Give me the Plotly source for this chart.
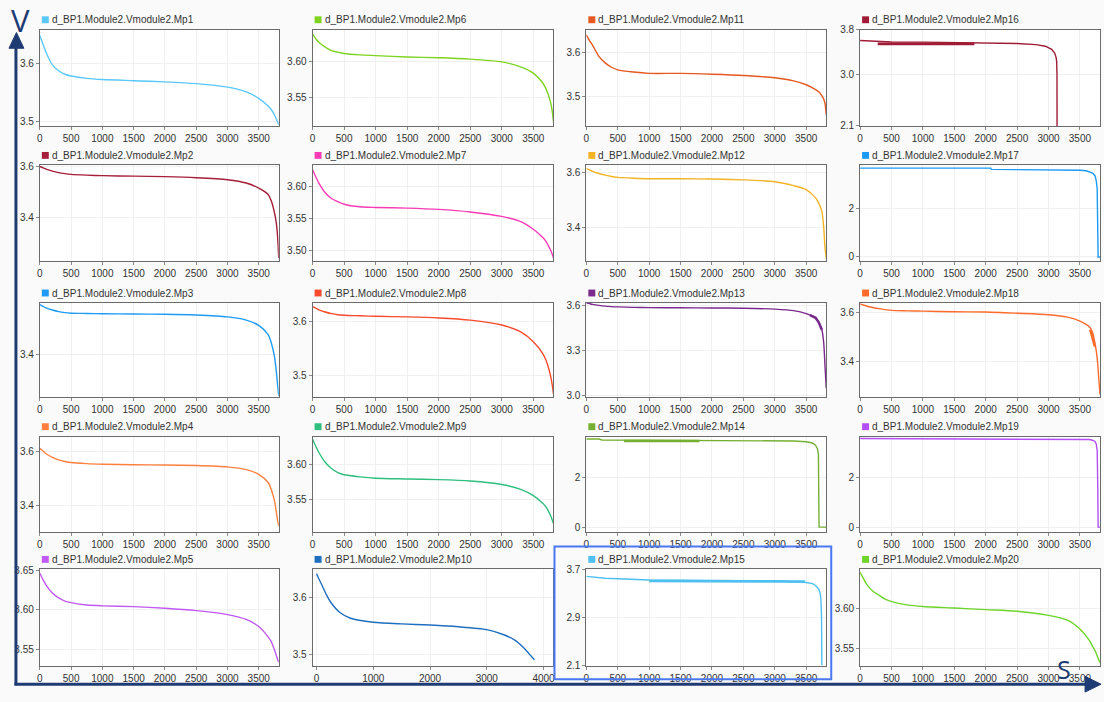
import plotly.graph_objects as go

# ---- cell voltages (V) over discharge time (s), module 2 of pack BP1 ----
T_STD = [0, 50, 100, 200, 300, 400, 500, 750, 1000, 1500, 2000, 2500,
         3000, 3300, 3500, 3650, 3700, 3750, 3780, 3800, 3820]

MP1_V = [3.647, 3.632, 3.618, 3.597, 3.587, 3.581, 3.578, 3.574, 3.572, 3.570, 3.568,
         3.565, 3.559, 3.551, 3.540, 3.527, 3.521, 3.512, 3.505, 3.500, 3.495]
MP2_V = [3.600, 3.595, 3.590, 3.582, 3.576, 3.572, 3.569, 3.566, 3.564, 3.562, 3.560,
         3.556, 3.548, 3.535, 3.515, 3.490, 3.465, 3.420, 3.380, 3.330, 3.240]
MP3_V = [3.588, 3.582, 3.576, 3.568, 3.562, 3.558, 3.556, 3.555, 3.554, 3.553, 3.552,
         3.549, 3.542, 3.530, 3.510, 3.475, 3.445, 3.395, 3.340, 3.290, 3.245]
MP4_V = [3.610, 3.600, 3.590, 3.577, 3.568, 3.562, 3.558, 3.554, 3.552, 3.550, 3.549,
         3.547, 3.542, 3.532, 3.515, 3.485, 3.460, 3.420, 3.380, 3.350, 3.325]
MP5_V = [3.646, 3.638, 3.631, 3.621, 3.615, 3.611, 3.609, 3.606, 3.605, 3.604, 3.602,
         3.599, 3.594, 3.588, 3.579, 3.566, 3.560, 3.550, 3.543, 3.538, 3.534]
MP6_V = [3.640, 3.633, 3.628, 3.621, 3.616, 3.614, 3.612, 3.610, 3.609, 3.607, 3.606,
         3.604, 3.600, 3.593, 3.584, 3.570, 3.562, 3.550, 3.540, 3.530, 3.515]
MP7_V = [3.626, 3.615, 3.605, 3.590, 3.581, 3.576, 3.572, 3.568, 3.567, 3.566, 3.564,
         3.560, 3.553, 3.545, 3.533, 3.520, 3.514, 3.505, 3.499, 3.494, 3.488]
MP8_V = [3.627, 3.624, 3.621, 3.617, 3.614, 3.612, 3.611, 3.610, 3.609, 3.608, 3.606,
         3.602, 3.593, 3.580, 3.562, 3.540, 3.528, 3.510, 3.495, 3.482, 3.465]
MP9_V = [3.636, 3.626, 3.617, 3.603, 3.594, 3.588, 3.585, 3.582, 3.580, 3.579, 3.578,
         3.576, 3.571, 3.564, 3.555, 3.544, 3.539, 3.531, 3.525, 3.520, 3.515]
MP10_T = [0, 50, 100, 175, 250, 400, 600, 1000, 1500, 2000, 2500, 3000, 3300, 3500,
          3650, 3750, 3840]
MP10_V = [3.641, 3.630, 3.620, 3.604, 3.591, 3.574, 3.563, 3.556, 3.553, 3.551, 3.548,
          3.543, 3.534, 3.524, 3.511, 3.500, 3.490]
MP11_V = [3.641, 3.628, 3.617, 3.592, 3.577, 3.567, 3.561, 3.556, 3.553, 3.553, 3.551,
          3.548, 3.543, 3.536, 3.527, 3.516, 3.511, 3.502, 3.494, 3.485, 3.458]
MP12_V = [3.615, 3.610, 3.605, 3.597, 3.591, 3.586, 3.583, 3.580, 3.578, 3.578, 3.577,
          3.574, 3.567, 3.553, 3.539, 3.509, 3.490, 3.460, 3.400, 3.330, 3.290]
MP13_V = [3.620, 3.615, 3.610, 3.603, 3.598, 3.595, 3.593, 3.590, 3.588, 3.587, 3.586,
          3.584, 3.578, 3.568, 3.548, 3.520, 3.490, 3.440, 3.350, 3.200, 3.050]
MP14_T = [0, 200, 250, 1000, 2000, 3000, 3300, 3500, 3600, 3650, 3680, 3695, 3705, 3820]
MP14_V = [3.55, 3.55, 3.51, 3.50, 3.50, 3.49, 3.47, 3.44, 3.39, 3.30, 3.15, 2.95, 0.0, 0.0]
MP15_T = [0, 300, 1000, 2000, 3000, 3500, 3600, 3650, 3700, 3720, 3735, 3745, 3750]
MP15_V = [3.58, 3.55, 3.52, 3.515, 3.505, 3.48, 3.46, 3.43, 3.37, 3.31, 3.20, 2.90, 2.10]
MP16_T = [0, 250, 300, 500, 1000, 1500, 2000, 2500, 2800, 2950, 3050, 3100, 3120, 3130,
          3135, 3136]
MP16_V = [3.608, 3.595, 3.588, 3.582, 3.578, 3.574, 3.568, 3.555, 3.535, 3.507, 3.450,
          3.380, 3.310, 3.240, 3.000, 2.100]
MP17_T = [0, 2080, 2090, 3450, 3500, 3600, 3650, 3700, 3740, 3760, 3775, 3785, 3790, 3820]
MP17_V = [3.66, 3.66, 3.61, 3.60, 3.57, 3.55, 3.52, 3.46, 3.35, 3.15, 2.80, 1.50, 0.0, 0.0]
MP18_V = [3.637, 3.632, 3.628, 3.622, 3.617, 3.613, 3.610, 3.608, 3.607, 3.604, 3.603,
          3.598, 3.592, 3.582, 3.566, 3.542, 3.520, 3.460, 3.400, 3.330, 3.264]
MP19_T = [0, 3000, 3650, 3700, 3740, 3760, 3775, 3785, 3790, 3820]
MP19_V = [3.57, 3.55, 3.53, 3.50, 3.45, 3.35, 3.10, 1.50, 0.0, 0.0]
MP20_V = [3.644, 3.637, 3.630, 3.621, 3.616, 3.611, 3.608, 3.604, 3.602, 3.600, 3.598,
          3.596, 3.591, 3.585, 3.574, 3.560, 3.553, 3.546, 3.540, 3.536, 3.533]

# dense / jittery stretches of the logged signal, drawn as thicker strokes
MP13_BAND_T = [3560, 3650, 3700, 3750]
MP13_BAND_V = [3.538, 3.520, 3.490, 3.440]
MP14_BAND_T = [600, 1800]
MP14_BAND_V = [3.47, 3.47]
MP15_BAND_T = [1000, 3480]
MP15_BAND_V = [3.505, 3.495]
MP16_BAND_T = [280, 1820]
MP16_BAND_V = [3.548, 3.548]
MP18_BAND_T = [3665, 3700, 3740]
MP18_BAND_V = [3.53, 3.50, 3.46]

# y tick labels per cell
MP1_YT = ["3.5", "3.6"]
MP2_YT = ["3.4", "3.6"]
MP3_YT = ["3.4"]
MP4_YT = ["3.4", "3.6"]
MP5_YT = ["3.55", "3.60", "3.65"]
MP6_YT = ["3.55", "3.60"]
MP7_YT = ["3.50", "3.55", "3.60"]
MP8_YT = ["3.5", "3.6"]
MP9_YT = ["3.55", "3.60"]
MP10_YT = ["3.5", "3.6"]
MP11_YT = ["3.5", "3.6"]
MP12_YT = ["3.4", "3.6"]
MP13_YT = ["3.0", "3.3", "3.6"]
MP14_YT = ["0", "2"]
MP15_YT = ["2.1", "2.9", "3.7"]
MP16_YT = ["2.1", "3.0", "3.8"]
MP17_YT = ["0", "2"]
MP18_YT = ["3.4", "3.6"]
MP19_YT = ["0", "2"]
MP20_YT = ["3.55", "3.60"]

X_TICKS = [0, 500, 1000, 1500, 2000, 2500, 3000, 3500]
X_TICKS_WIDE = [0, 1000, 2000, 3000, 4000]

# (cell, time, voltage, colour, y-range, y ticks)
PANELS = [
    ("Mp1", T_STD, MP1_V, "#5ac8fa", (3.493, 3.657), MP1_YT),
    ("Mp2", T_STD, MP2_V, "#a51f3b", (3.23, 3.605), MP2_YT),
    ("Mp3", T_STD, MP3_V, "#1e9bf5", (3.24, 3.595), MP3_YT),
    ("Mp4", T_STD, MP4_V, "#ff7f3f", (3.305, 3.653), MP4_YT),
    ("Mp5", T_STD, MP5_V, "#bf5af2", (3.53, 3.651), MP5_YT),
    ("Mp6", T_STD, MP6_V, "#7ed321", (3.509, 3.646), MP6_YT),
    ("Mp7", T_STD, MP7_V, "#f73bb5", (3.484, 3.633), MP7_YT),
    ("Mp8", T_STD, MP8_V, "#f84a2c", (3.459, 3.634), MP8_YT),
    ("Mp9", T_STD, MP9_V, "#2ebf7e", (3.503, 3.640), MP9_YT),
    ("Mp10", MP10_T, MP10_V, "#1f6fbf", (3.48, 3.649), MP10_YT),
    ("Mp11", T_STD, MP11_V, "#e5581f", (3.433, 3.653), MP11_YT),
    ("Mp12", T_STD, MP12_V, "#f2b324", (3.282, 3.627), MP12_YT),
    ("Mp13", T_STD, MP13_V, "#7a2a8c", (2.99, 3.62), MP13_YT),
    ("Mp14", MP14_T, MP14_V, "#75b033", (-0.19, 3.65), MP14_YT),
    ("Mp15", MP15_T, MP15_V, "#4dbff0", (2.1, 3.7), MP15_YT),
    ("Mp16", MP16_T, MP16_V, "#a01c36", (2.1, 3.8), MP16_YT),
    ("Mp17", MP17_T, MP17_V, "#1a9af5", (-0.15, 3.78), MP17_YT),
    ("Mp18", T_STD, MP18_V, "#ff6b2a", (3.252, 3.641), MP18_YT),
    ("Mp19", MP19_T, MP19_V, "#b44ff5", (-0.19, 3.65), MP19_YT),
    ("Mp20", T_STD, MP20_V, "#6fd42a", (3.529, 3.648), MP20_YT),
]

BANDS = {
    "Mp13": [(MP13_BAND_T, MP13_BAND_V)],
    "Mp14": [(MP14_BAND_T, MP14_BAND_V)],
    "Mp15": [(MP15_BAND_T, MP15_BAND_V)],
    "Mp16": [(MP16_BAND_T, MP16_BAND_V)],
    "Mp18": [(MP18_BAND_T, MP18_BAND_V)],
}

# cells whose trace ends in an abrupt cut-off keep straight segments
ABRUPT = {"Mp14", "Mp15", "Mp16", "Mp17", "Mp19"}

W, H = 1104, 702
COL_X = [(37, 277), (311, 553), (586, 827), (861, 1102)]
ROW_Y = [(24, 122), (162, 259), (302, 398), (438, 535), (573, 671)]
NAVY = "#1f3b73"
FONT = "Liberation Sans, Arial, sans-serif"


def fx(px):
    return px / W


def fy(py):
    return 1 - py / H


fig = go.Figure()
layout = {}
shapes = []
annotations = []

for i, (cell, t, v, color, yr, yt) in enumerate(PANELS):
    k = i + 1
    c, r = i // 5, i % 5
    xref, yref = f"x{k}", f"y{k}"
    xkey = "xaxis" if k == 1 else f"xaxis{k}"
    ykey = "yaxis" if k == 1 else f"yaxis{k}"

    shape = "linear" if cell in ABRUPT else "spline"
    fig.add_trace(go.Scatter(x=t, y=v, mode="lines", xaxis=xref, yaxis=yref,
                             line=dict(color=color, width=1.4, shape=shape,
                                       smoothing=0.7),
                             showlegend=False, hoverinfo="skip"))
    for bt, bv in BANDS.get(cell, []):
        fig.add_trace(go.Scatter(x=bt, y=bv, mode="lines", xaxis=xref, yaxis=yref,
                                 line=dict(color=color, width=2.6), showlegend=False,
                                 hoverinfo="skip"))

    x0, x1 = COL_X[c]
    y0, y1 = ROW_Y[r]
    wide = cell == "Mp10"
    axis_common = dict(showline=True, mirror=True, linecolor="#6b6b6b", linewidth=1,
                       showgrid=True, gridcolor="#f0f0f0", gridwidth=1, zeroline=False,
                       ticks="outside", ticklen=3, tickcolor="#8a8a8a",
                       tickfont=dict(family=FONT, size=10, color="#333333"),
                       fixedrange=True)
    layout[xkey] = dict(axis_common, domain=[fx(x0), fx(x1)], anchor=yref,
                        range=[-70, 4175] if wide else [0, 3820],
                        tickvals=X_TICKS_WIDE if wide else X_TICKS)
    layout[ykey] = dict(axis_common, domain=[fy(y1), fy(y0)], anchor=xref,
                        range=list(yr), tickvals=[float(s) for s in yt], ticktext=yt)

    # series key above each panel
    ty = y0 - 10
    shapes.append(dict(type="rect", xref="paper", yref="paper",
                       x0=fx(x0 + 2), x1=fx(x0 + 9), y0=fy(ty + 3.5), y1=fy(ty - 3.5),
                       fillcolor=color, line=dict(width=0)))
    annotations.append(dict(xref="paper", yref="paper", x=fx(x0 + 10), y=fy(ty),
                            xanchor="left", yanchor="middle", showarrow=False,
                            text=f"d_BP1.Module2.Vmodule2.{cell}",
                            font=dict(family=FONT, size=10, color="#333333")))

# highlight frame around Mp15
shapes.append(dict(type="rect", xref="paper", yref="paper",
                   x0=fx(554), x1=fx(832), y0=fy(685), y1=fy(550),
                   line=dict(color="#4a78f0", width=2), fillcolor="rgba(0,0,0,0)"))

# voltage / time axis arrows
shapes.append(dict(type="line", xref="paper", yref="paper",
                   x0=fx(13), x1=fx(13), y0=fy(691), y1=fy(38),
                   line=dict(color=NAVY, width=3)))
shapes.append(dict(type="path", xref="paper", yref="paper",
                   path=f"M {fx(6)} {fy(43)} L {fx(13.5)} {fy(27)} L {fx(21)} {fy(43)} Z",
                   fillcolor=NAVY, line=dict(color=NAVY, width=1)))
shapes.append(dict(type="line", xref="paper", yref="paper",
                   x0=fx(11.5), x1=fx(1092), y0=fy(690), y1=fy(690),
                   line=dict(color=NAVY, width=3)))
shapes.append(dict(type="path", xref="paper", yref="paper",
                   path=f"M {fx(1087)} {fy(682)} L {fx(1103)} {fy(690)} L {fx(1087)} {fy(698)} Z",
                   fillcolor=NAVY, line=dict(color=NAVY, width=1)))
annotations.append(dict(xref="paper", yref="paper", x=fx(18), y=fy(14),
                        xanchor="center", yanchor="middle", showarrow=False, text="V",
                        font=dict(family="Open Sans, sans-serif", size=31, color=NAVY)))
annotations.append(dict(xref="paper", yref="paper", x=fx(1066), y=fy(675),
                        xanchor="center", yanchor="middle", showarrow=False, text="S",
                        font=dict(family="Open Sans, sans-serif", size=25, color=NAVY)))

fig.update_layout(**layout)
fig.update_layout(width=W, height=H, autosize=False,
                  margin=dict(l=0, r=0, t=0, b=0, pad=0),
                  paper_bgcolor="#fafafa", plot_bgcolor="#ffffff",
                  shapes=shapes, annotations=annotations, showlegend=False)

fig.write_html("out.html", config={"displayModeBar": False})
